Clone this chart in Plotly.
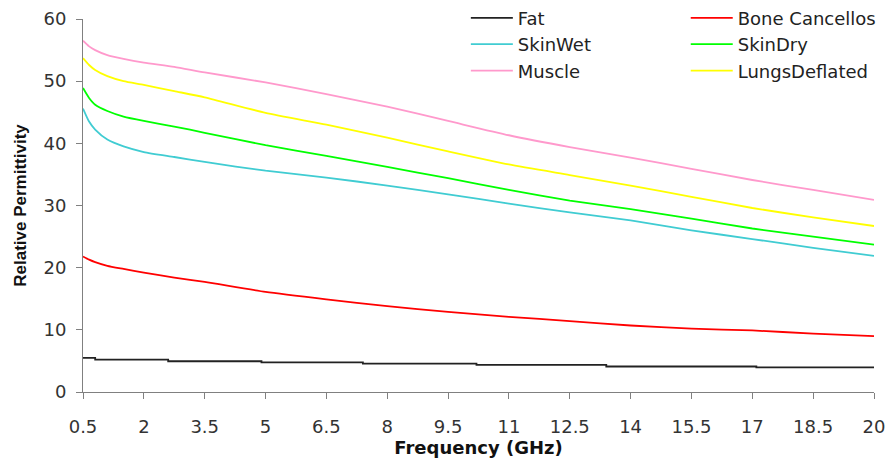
import plotly.graph_objects as go

freq = [0.5, 0.65, 0.8, 1.1, 1.5, 2, 2.75, 3.5, 5, 6.5, 8, 9.5, 11, 12.5, 14, 15.5, 17, 18.5, 20]
muscle = [56.5, 55.6, 55.0, 54.2, 53.6, 53.0, 52.3, 51.4, 49.8, 47.9, 45.9, 43.6, 41.3, 39.4, 37.7, 35.9, 34.1, 32.5, 30.9]
lungs = [53.7, 52.6, 51.8, 50.8, 50.0, 49.4, 48.4, 47.4, 44.9, 43.0, 40.9, 38.7, 36.6, 34.9, 33.2, 31.4, 29.6, 28.1, 26.7]
skindry = [48.9, 47.3, 46.2, 45.2, 44.3, 43.6, 42.7, 41.7, 39.7, 38.0, 36.2, 34.4, 32.5, 30.8, 29.4, 27.9, 26.3, 25.0, 23.7]
skinwet = [45.6, 43.5, 42.2, 40.6, 39.5, 38.6, 37.8, 37.0, 35.6, 34.5, 33.2, 31.8, 30.3, 28.9, 27.6, 26.0, 24.6, 23.2, 21.9]
bone = [21.8, 21.3, 20.9, 20.3, 19.8, 19.2, 18.4, 17.7, 16.1, 14.9, 13.8, 12.9, 12.1, 11.4, 10.7, 10.2, 9.9, 9.4, 9.0]
fat_freq = [0.5, 0.8, 2.6, 4.9, 7.4, 10.2, 13.4, 17.1, 20]
fat = [5.5, 5.2, 4.95, 4.75, 4.55, 4.35, 4.1, 3.95, 3.95]

x_ticks = [0.5, 2, 3.5, 5, 6.5, 8, 9.5, 11, 12.5, 14, 15.5, 17, 18.5, 20]
y_ticks = [0, 10, 20, 30, 40, 50, 60]

series = [
    ("Fat", fat_freq, fat, "#222222", "legend", "hv"),
    ("SkinWet", freq, skinwet, "#40CCD2", "legend", "spline"),
    ("Muscle", freq, muscle, "#FF99CC", "legend", "spline"),
    ("Bone Cancellos", freq, bone, "#FF0000", "legend2", "spline"),
    ("SkinDry", freq, skindry, "#00FF00", "legend2", "spline"),
    ("LungsDeflated", freq, lungs, "#FFFF00", "legend2", "spline"),
]

fig = go.Figure()
for i, (name, xs, ys, color, leg, shape) in enumerate(series):
    fig.add_trace(go.Scatter(
        x=xs, y=ys, name=name, mode="lines",
        line=dict(color=color, width=1.8, shape=shape, smoothing=0.6),
        legend=leg, legendgroup=name,
    ))

tickfont = dict(family="DejaVu Sans", size=18, color="#333333")
legfont = dict(family="DejaVu Sans", size=18, color="#222222")

fig.update_layout(
    width=891, height=466,
    margin=dict(l=83, r=17, t=19, b=74, autoexpand=False),
    paper_bgcolor="white", plot_bgcolor="white",
    showlegend=True,
    legend=dict(x=0.484, y=1.052, xanchor="left", yanchor="top",
                font=legfont, bgcolor="rgba(0,0,0,0)", itemwidth=42,
                tracegroupgap=7, traceorder="normal"),
    legend2=dict(x=0.762, y=1.052, xanchor="left", yanchor="top",
                 font=legfont, bgcolor="rgba(0,0,0,0)", itemwidth=42,
                 tracegroupgap=7, traceorder="normal"),
    xaxis=dict(
        range=[0.5, 20], tickmode="array", tickvals=x_ticks,
        ticktext=[f"{v:g}" for v in x_ticks],
        showgrid=False, zeroline=False, showline=True, linecolor="#808080",
        linewidth=1, ticks="outside", ticklen=6, tickcolor="#808080",
        tickfont=tickfont, ticklabelstandoff=12,
        title=dict(text="<b>Frequency (GHz)</b>",
                   font=dict(family="DejaVu Sans", size=18, color="#111111"),
                   standoff=3),
    ),
    yaxis=dict(
        range=[0, 60], tickmode="array", tickvals=y_ticks,
        showgrid=False, zeroline=False, showline=True, linecolor="#808080",
        linewidth=1, ticks="outside", ticklen=6, tickcolor="#808080",
        tickfont=tickfont, ticklabelstandoff=6,
        title=dict(text="<b>Relative Permittivity</b>",
                   font=dict(family="Liberation Sans Narrow, Liberation Sans", size=17, color="#111111"),
                   standoff=12),
    ),
)

fig.write_html("out.html")
